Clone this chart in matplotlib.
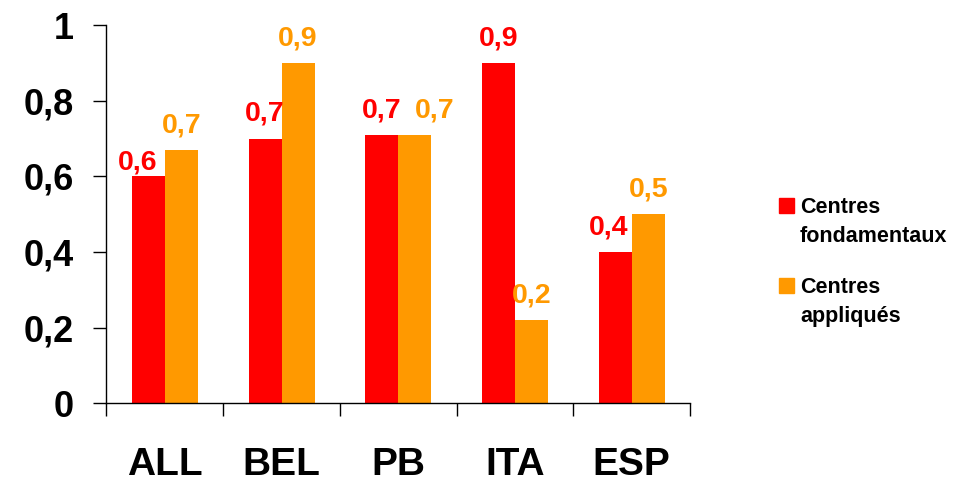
import numpy as np
from matplotlib import pyplot as plt
from matplotlib.patches import Rectangle

pays = ["ALL", "BEL", "PB", "ITA", "ESP"]
fondamentaux = [0.6, 0.7, 0.71, 0.9, 0.4]
appliques = [0.67, 0.9, 0.71, 0.22, 0.5]
y_ticks = [0, 0.2, 0.4, 0.6, 0.8, 1]
legende = [["Centres", "fondamentaux"], ["Centres", "appliqués"]]

ROUGE = "#FF0000"
ORANGE = "#FF9900"

plt.rcParams['font.family'] = ['Liberation Sans', 'DejaVu Sans']
plt.rcParams['font.weight'] = 'bold'

fig = plt.figure(figsize=(9.56, 4.8), dpi=100)
ax = fig.add_axes([0.1114, 0.1594, 0.6104, 0.7885])

x = np.arange(len(pays))
w = 0.283
b1 = ax.bar(x - w / 2, fondamentaux, w, color=ROUGE)
b2 = ax.bar(x + w / 2, appliques, w, color=ORANGE)

def virgule(v):
    return f"{v:.1f}".replace(".", ",") if v != int(v) else str(int(v))

# decalages (points) des etiquettes qui se chevauchent
decal_rouge = {0: (-8, -7.5), 4: (-5, 0)}
decal_orange = {2: (14, 0)}

for bars, vals, col, decal in [(b1, fondamentaux, ROUGE, decal_rouge),
                               (b2, appliques, ORANGE, decal_orange)]:
    for i, (r, v) in enumerate(zip(bars, vals)):
        dx, dy = decal.get(i, (0, 0))
        ax.annotate(virgule(v), (r.get_x() + r.get_width() / 2, v),
                    xytext=(dx, 12.7 + dy), textcoords="offset points",
                    ha="center", va="baseline", color=col,
                    fontsize=20.5, fontweight="bold")

ax.set_xlim(-0.5, len(pays) - 0.5)
ax.set_ylim(0, 1)
ax.set_yticks(y_ticks)
ax.set_yticklabels([virgule(t) for t in y_ticks], fontsize=26, fontweight="bold")
ax.set_xticks(x)
ax.set_xticklabels(pays, fontsize=28, fontweight="bold")
ax.set_xticks(np.arange(-0.5, len(pays)), minor=True)
ax.tick_params(axis="x", which="major", length=0, pad=31.5)
ax.tick_params(axis="x", which="minor", length=9.5, width=1, direction="out")
ax.tick_params(axis="y", length=9.5, width=1, pad=14)

for s in ["top", "right"]:
    ax.spines[s].set_visible(False)
for s in ["left", "bottom"]:
    ax.spines[s].set_linewidth(1)

# legende a droite, carre aligne sur la premiere ligne
W, H = 956, 480
for k, (lignes, col) in enumerate(zip(legende, [ROUGE, ORANGE])):
    base = 213 + 80 * k
    fig.patches.append(Rectangle((779 / W, 1 - base / H), 15 / W, 15 / H,
                                 color=col, transform=fig.transFigure))
    for j, txt in enumerate(lignes):
        fig.text(800 / W, 1 - (base + 29 * j) / H, txt, fontsize=15.5,
                 fontweight="bold", va="baseline", ha="left")

fig.savefig("out.png", dpi=100)
